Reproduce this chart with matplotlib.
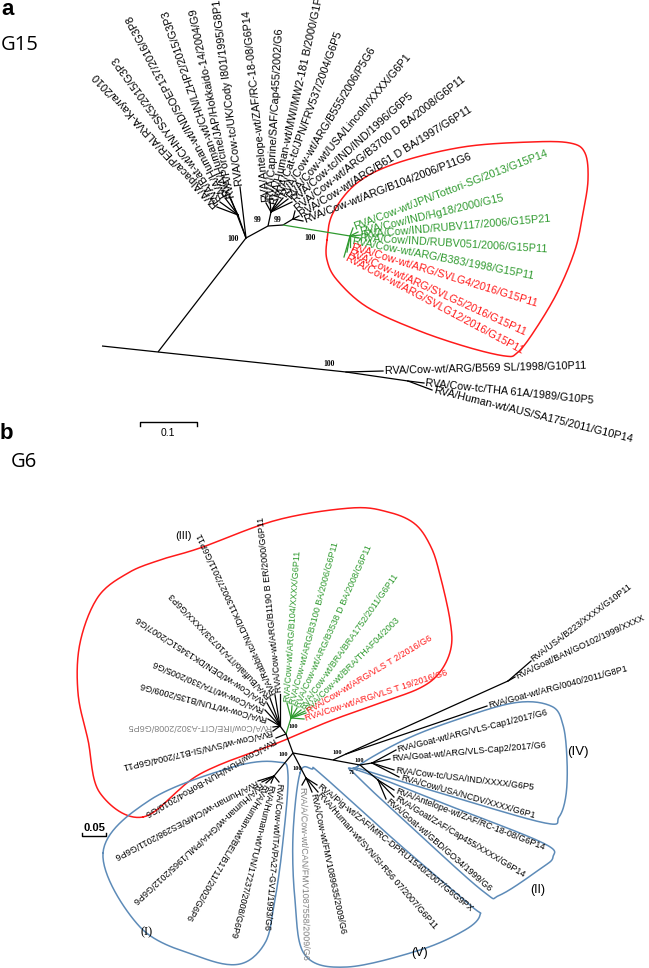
import numpy as np
import matplotlib
matplotlib.use("Agg")
import matplotlib.pyplot as plt

plt.rcParams['font.family'] = ['Liberation Sans', 'DejaVu Sans']

COL = {'k': 'black', 'g': '#2f9a2f', 'r': '#ff1a1a', 'gray': '#808080'}
RED = '#ff1a1a'
BLUE = '#5d8bb8'

# ---------------- panel a (G15) ----------------
a_nodes = {
    'R': (246, 238), 'L1': (238, 215), 'A': (268, 226), 'A1': (271, 212),
    'B': (283, 225), 'B1': (293, 219), 'G': (350, 236),
    'J': (158, 352), 'S': (102, 346), 'O': (346, 372), 'P': (408, 381),
}
a_edges = [('R', 'L1', 'k'), ('R', 'A', 'k'), ('A', 'A1', 'k'), ('A', 'B', 'k'),
           ('B', 'B1', 'k'), ('B', 'G', 'g'), ('R', 'J', 'k'), ('J', 'S', 'k'),
           ('J', 'O', 'k'), ('O', 'P', 'k')]

a_labels = [
    'RVA/Alpaca/PER/ALRVA-Kayra/2010', 'RVA/Bat-wt/CHN/YSSK5/2015/G3P3',
    'RVA/Human-wt/IND/SOEP137/2016/G3P8', 'RVA/Human-wt/CHN/LZHP2/2015/G3P3',
    'RVA/Porcine/JAP/Hokkaido-14/2004/G9', 'RVA/Cow-tc/UK/Cody I801/1995/G8P1',
    'RVA/Antelope-wt/ZAF/RC-18-08/G6P14', 'RVA/Caprine/SAF/Cap455/2002/G6',
    'RVA/Human-wt/MWI/MW2-181 B/2000/G1P8', 'RVA/Cat-tc/JPN/FRV537/2004/G6P5',
    'RVA/Cow-wt/ARG/B555/2006/P5G6', 'RVA/Cow-wt/USA/Lincoln/XXXX/G6P1',
    'RVA/Cow-tc/IND/IND/1996/G6P5', 'RVA/Cow-wt/ARG/B3700 D BA/2008/G6P11',
    'RVA/Cow-wt/ARG/B61 D BA/1997/G6P11', 'RVA/Cow-wt/ARG/B104/2006/P11G6',
    'RVA/Cow-wt/JPN/Tottori-SG/2013/G15P14', 'RVA/Cow/IND/Hg18/2000/G15',
    'RVA/Cow/IND/RUBV117/2006/G15P21', 'RVA/Cow/IND/RUBV051/2006/G15P11',
    'RVA/Cow-wt/ARG/B383/1998/G15P11', 'RVA/Cow-wt/ARG/SVLG4/2016/G15P11',
    'RVA/Cow-wt/ARG/SVLG5/2016/G15P11', 'RVA/Cow-wt/ARG/SVLG12/2016/G15P11',
    'RVA/Cow-wt/ARG/B569 SL/1998/G10P11', 'RVA/Cow-tc/THA 61A/1989/G10P5',
    'RVA/Human-wt/AUS/SA175/2011/G10P14',
]
a_color = ['k'] * 16 + ['g'] * 5 + ['r'] * 3 + ['k'] * 3
a_parent = ['L1'] * 4 + ['R'] * 2 + ['A1'] * 7 + ['B1'] * 3 + ['G'] * 8 + ['O', 'P', 'P']
a_tip_x = [217, 220, 225, 229, 231, 240, 266, 270, 274, 278, 283, 288, 292, 295, 299, 303,
           353, 358, 361, 358, 350, 350, 347, 344, 383, 424, 432]
a_tip_y = [207, 202, 198, 196, 199, 187, 203, 201, 206, 199, 198, 199, 202, 211, 216, 221,
           228, 232, 235, 238, 241, 247, 252, 257, 371, 383, 390]
a_angle = [133, 126, 118, 109, 101.5, 97, 96, 87, 77.5, 70, 59, 50, 42, 38, 32, 21,
           21, 13.5, 5, -3.5, -11, -17, -24.5, -28, 1.5, -6, -14]
a_boot = ['100', '99', '99', '100', '100']
a_boot_x = [233, 258, 278, 310, 329]
a_boot_y = [239, 220, 220, 238, 364]

a_red_outline = [(327, 240), (333, 213), (357, 183), (397, 163), (463, 147), (530, 142),
                 (570, 143), (585, 153), (588, 180), (583, 213), (575, 250), (557, 293),
                 (533, 333), (517, 353), (505, 356), (467, 347), (417, 330), (367, 307),
                 (337, 280), (327, 260)]

# ---------------- panel b (G6) ----------------
b_nodes = {
    'N0': (293, 753), 'NIII': (286, 734), 'NIIIk': (280, 726), 'NIIIg': (291, 718),
    'NI': (274, 776), 'NV': (306, 778), 'N1': (333, 760), 'NF1': (346, 754),
    'NF2': (508, 681), 'N2': (360, 765), 'NIV': (372, 763), 'NII': (378, 780),
}
b_edges = [('N0', 'NIII', 'k'), ('NIII', 'NIIIk', 'k'), ('NIII', 'NIIIg', 'g'),
           ('N0', 'NI', 'k'), ('N0', 'NV', 'k'), ('N0', 'N1', 'k'), ('N1', 'NF1', 'k'),
           ('NF1', 'NF2', 'k'), ('N1', 'N2', 'k'), ('N2', 'NIV', 'k'), ('N2', 'NII', 'k')]

b_labels = [
    'RVA/Cow/HUN/HUN-BoRo4/2010/G6', 'RVA/Cow-wt/SVN/SI-B17/2004/G6P11',
    'RVA/Cow/IRE/CIT-A302/2008/G6P5', 'RVA/Cow-wt/TUN/B135/2009/G6',
    'RVA/Cow-wt/ITA/330/2005/G6', 'RVA/Cow-wt/DEN/DK13451C/2007/G6',
    'RVA/Buffalo/ITA/10733/XXXX/G6P3', 'RVA/Rabbit-tc/NLD/DK1130027/2011/G6P11',
    'RVA/Cow-wt/ARG/B1190 B ER/2000/G6P11',
    'RVA/Cow-wt/ARG/B104/XXXX/G6P11', 'RVA/Cow-wt/ARG/B3100 BA/2006/G6P11',
    'RVA/Cow-wt/ARG/B3538 D BA/2008/G6P11', 'RVA/Cow-wt/BRA/BRA1752/2011/G6P11',
    'RVA/Cow-wt/BRA/THAF04/2003',
    'RVA/Cow-wt/ARG/VLS T 2/2016/G6', 'RVA/Cow-wt/ARG/VLS T 19/2016/G6',
    'RVA/Cow-wt/ITA/PA27-GV1/1993/G6', 'RVA/Human-wt/TUN/17237/2008/G6P9',
    'RVA/Human-wt/BEL/B1711/2002/G6P6', 'RVA/Human-wt/GHA/PML/1965/2012/G6P6',
    'RVA/Human-wt/CMR/ES298/2011/G6P6',
    'RVA/Pig-wt/ZAF/MRC-DPRU1540/2007/G6G9PX', 'RVA/Human-wt/SVN/SI-R56 07/2007/G6P11',
    'RVA/Cow-wt/FMV1089635/2009/G6', 'RVA/A/Cow-wt/CAN/FMV1087558/2009/G6',
    'RVA/USA/B223/XXXX/G10P11', 'RVA/Goat/BAN/GO102/1999/XXXX',
    'RVA/Goat-wt/ARG/0040/2011/G8P1',
    'RVA/Goat-wt/ARG/VLS-Cap1/2017/G6', 'RVA/Goat-wt/ARG/VLS-Cap2/2017/G6',
    'RVA/Cow-tc/USA/IND/XXXX/G6P5', 'RVA/Cow/USA/NCDV/XXXX/G6P1',
    'RVA/Antelope-wt/ZAF/RC-18-08/G6P14', 'RVA/Goat/ZAF/Cap455/XXXX/G6P14',
    'RVA/Goat-wt/GBD/GO34/1999/G6',
]
b_color = ['k', 'k', 'gray'] + ['k'] * 6 + ['g'] * 5 + ['r'] * 2 + ['k'] * 8 + ['gray'] + ['k'] * 10
b_parent = (['NIII'] + ['NIIIk'] * 8 + ['NIIIg'] * 7 + ['NI'] * 5 + ['NV'] * 4
            + ['NF2', 'NF2', 'NF1'] + ['NIV'] * 4 + ['NII'] * 3)
b_tip_x = [276, 273, 273, 268, 265, 267, 270, 275, 280,
           287, 292, 297, 301, 305, 306, 304,
           279, 271, 266, 262, 258,
           317, 318, 312, 302,
           531, 515, 487,
           396, 390, 394, 399,
           394, 394, 386]
b_tip_y = [738, 731, 727, 719, 710, 703, 698, 695, 694,
           703, 706, 708, 710, 711, 713, 719,
           782, 783, 783, 782, 781,
           785, 792, 792, 785,
           661, 677, 706,
           750, 759, 770, 777,
           790, 797, 799]
b_angle = [-150, -167, 180, 165, 157, 147, 134, 115, 96,
           86, 75, 66, 55, 45, 31, 18,
           -95, -104, -120, -137, -152,
           -39, -49, -78, -89,
           37, 25, 15,
           14, 5, -7, -16,
           -21, -31, -41]
b_boot = ['100', '100', '100', '100', '100', '71']
b_boot_x = [293, 283, 297, 337, 359, 352]
b_boot_y = [727, 755, 769, 752, 761, 773]

b_red_outline = [(143, 817), (100, 793), (88, 740), (78, 693), (80, 643), (98, 597),
                 (128, 573), (160, 560), (200, 548), (277, 520), (351, 508), (388, 512),
                 (415, 524), (431, 547), (440, 575), (450, 620), (451, 648), (440, 672),
                 (420, 688), (380, 703), (330, 721), (280, 742), (200, 774)]
b_blue_I = [(103, 853), (150, 800), (233, 767), (277, 762), (288, 775), (282, 850),
            (274, 905), (265, 943), (240, 964), (200, 957), (140, 927)]
b_blue_V = [(300, 773), (312, 769), (322, 775), (400, 845), (470, 905), (480, 915),
            (465, 930), (420, 950), (347, 967), (305, 955), (295, 900), (293, 835)]
b_blue_II = [(357, 770), (450, 806), (543, 843), (553, 857), (540, 869), (500, 895),
             (484, 892), (420, 835), (360, 779)]
b_blue_IV = [(358, 766), (400, 742), (447, 723), (513, 703), (551, 706), (563, 725),
             (567, 760), (566, 795), (559, 817), (545, 823), (450, 796), (364, 770)]


def smooth_closed(pts, n=16):
    P = np.array(pts, float)
    segs = []
    t = np.linspace(0, 1, n, endpoint=False)[:, None]
    for i in range(len(P)):
        p0, p1, p2, p3 = P[i - 1], P[i], P[(i + 1) % len(P)], P[(i + 2) % len(P)]
        segs.append(0.5 * (2 * p1 + (-p0 + p2) * t + (2 * p0 - 5 * p1 + 4 * p2 - p3) * t ** 2
                           + (-p0 + 3 * p1 - 3 * p2 + p3) * t ** 3))
    out = np.vstack(segs)
    return np.vstack([out, out[:1]])


def draw_tree(ax, nodes, edges, labels, colors, parents, tx, ty, ang, fs, lw):
    for n1, n2, c in edges:
        (x1, y1), (x2, y2) = nodes[n1], nodes[n2]
        ax.plot([x1, x2], [y1, y2], color=COL[c], lw=lw, solid_capstyle='butt')
    for lab, c, p, x, y, a in zip(labels, colors, parents, tx, ty, ang):
        px, py = nodes[p]
        lc = COL['g'] if c in ('g', 'r') else 'black'
        ax.plot([px, x], [py, y], color=lc, lw=lw)
        r = np.deg2rad(a)
        ax.text(x + 1.5 * np.cos(r), y - 1.5 * np.sin(r), lab, rotation=a,
                rotation_mode='anchor', ha='left', va='center', fontsize=fs, color=COL[c])


fig = plt.figure(figsize=(6.49, 9.68), dpi=100)
ax = fig.add_axes([0, 0, 1, 1])
ax.set_xlim(0, 649)
ax.set_ylim(968, 0)
ax.axis('off')

# panel headings
ax.text(1, 15, 'a', fontsize=16, fontweight='bold', va='baseline', ha='left')
ax.text(1, 50, 'G15', fontsize=14.5, va='baseline', ha='left', family=['Open Sans', 'DejaVu Sans'])
ax.text(0, 439, 'b', fontsize=16, fontweight='bold', va='baseline', ha='left')
ax.text(11, 467, 'G6', fontsize=14.5, va='baseline', ha='left', family=['Open Sans', 'DejaVu Sans'])

# panel a
pa = smooth_closed(a_red_outline)
ax.plot(pa[:, 0], pa[:, 1], color=RED, lw=1.1)
draw_tree(ax, a_nodes, a_edges, a_labels, a_color, a_parent, a_tip_x, a_tip_y, a_angle, 7.8, 0.9)
for s, x, y in zip(a_boot, a_boot_x, a_boot_y):
    ax.text(x, y, s, fontsize=5.5, fontweight='bold', ha='center', va='center',
            family=['Liberation Serif', 'DejaVu Serif'])
# scale bar a
ax.plot([140, 140, 197, 197], [426, 422, 422, 426], color='black', lw=1.0)
ax.text(168, 433, '0.1', fontsize=7.5, ha='center', va='center')

# panel b
pr = smooth_closed(b_red_outline)
ax.plot(pr[:, 0], pr[:, 1], color=RED, lw=1.1)
for outline in (b_blue_I, b_blue_V, b_blue_II, b_blue_IV):
    pb = smooth_closed(outline)
    ax.plot(pb[:, 0], pb[:, 1], color=BLUE, lw=1.1)
draw_tree(ax, b_nodes, b_edges, b_labels, b_color, b_parent, b_tip_x, b_tip_y, b_angle, 6.5, 0.9)
for s, x, y in zip(b_boot, b_boot_x, b_boot_y):
    ax.text(x, y, s, fontsize=4.6, fontweight='bold', ha='center', va='center',
            family=['Liberation Serif', 'DejaVu Serif'])

ax.text(183, 536, '(III)', fontsize=8, ha='center', va='center')
ax.text(578, 752, '(IV)', fontsize=9.5, ha='center', va='center')
ax.text(538, 890, '(II)', fontsize=9, ha='center', va='center')
ax.text(420, 953, '(V)', fontsize=9, ha='center', va='center')
ax.text(147, 932, '(I)', fontsize=9, ha='center', va='center', family=['Liberation Serif', 'DejaVu Serif'])

# scale bar b
ax.text(94, 828, '0.05', fontsize=8, fontweight='bold', ha='center', va='center')
ax.plot([82, 82, 106, 106], [833, 836, 836, 833], color='black', lw=1.0)

fig.savefig('out.png', dpi=100)
